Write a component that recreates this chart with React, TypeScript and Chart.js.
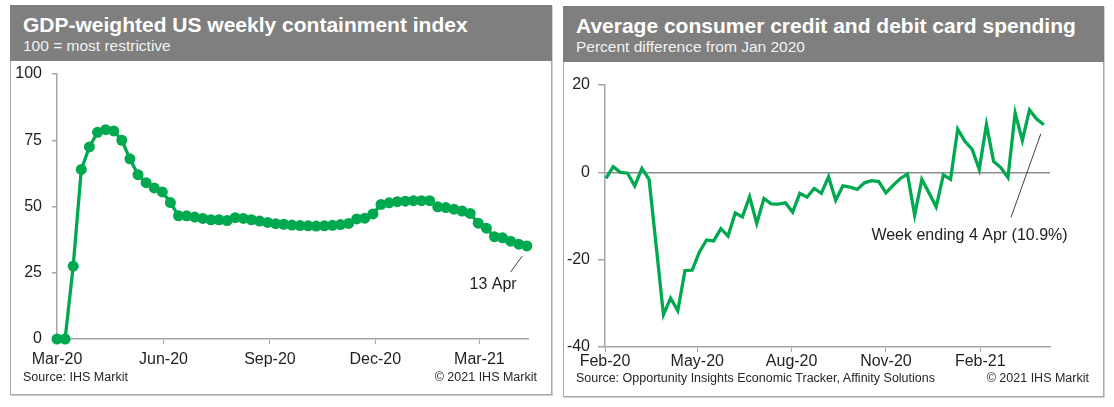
import React, { useEffect, useRef } from 'react';
import { Chart, registerables } from 'chart.js';

Chart.register(...registerables);

// ---------- data ----------
// Left chart: GDP-weighted US weekly containment index (weekly, days since 1 Mar 2020)
const containmentStartDay = 0;
const weekDays = 7;
const containmentValues = [
  0, 0, 27.5, 64, 72.5, 78, 79, 78.5, 75, 68,
  62, 59, 57, 55.5, 51.5, 46.5, 46.5, 46, 45.5, 45,
  45, 44.7, 45.8, 45.5, 45, 44.5, 44, 43.5, 43.3, 43,
  42.8, 42.7, 42.6, 42.7, 42.9, 43.2, 43.6, 45.3, 45.6, 47.2,
  50.8, 51.4, 51.8, 52, 52.2, 52.2, 52.2, 49.9, 49.6, 49,
  48.3, 47.4, 43.7, 41.8, 38.6, 38.2, 36.9, 35.8, 35.1,
];
const containmentTickDays = [0, 92, 184, 275, 365];
const containmentTickLabels = ['Mar-20', 'Jun-20', 'Sep-20', 'Dec-20', 'Mar-21'];
const containmentYTicks = [0, 25, 50, 75, 100];

// Right chart: card spending, % difference from Jan 2020 (weekly, days since 1 Feb 2020)
const spendingStartDay = 1;
const spendingValues = [
  -1.4, 1.3, 0, -0.2, -3.1, 0.9, -1.6, -17, -32.6, -28.8,
  -31.7, -22.5, -22.4, -18.3, -15.5, -15.7, -12.9, -14.6, -9.3, -10.2,
  -5.6, -11.7, -6, -7.2, -7.3, -7, -9.1, -4.8, -5.7, -3.7,
  -4.8, -1, -6.4, -3.1, -3.4, -3.9, -2.4, -1.9, -2.1, -4.7,
  -3, -1.4, -0.4, -9.8, -1.6, -4.7, -7.9, -0.6, -1.6, 9.9,
  7.1, 5.3, 0.7, 10.9, 2.5, 1.1, -1.2, 13.6, 7.3, 14.3,
  12.2, 10.9,
];
const spendingTickDays = [0, 90, 182, 274, 366];
const spendingTickLabels = ['Feb-20', 'May-20', 'Aug-20', 'Nov-20', 'Feb-21'];
const spendingYTicks = [-40, -20, 0, 20];

// ---------- styles ----------
const FONT = '"Liberation Sans", Arial, Helvetica, sans-serif';
const GREEN = '#00A94F';
const AXIS = '#A6A6A6';
const TEXT = '#1f1f1f';
const HEADER = '#7f7f7f';

const notePlugin = {
  id: 'note',
  afterDatasetsDraw(chart: any, _args: any, opts: any) {
    if (!opts || !opts.text) return;
    const xs = chart.scales.x;
    const ys = chart.scales.y;
    const ctx = chart.ctx;
    ctx.save();
    ctx.strokeStyle = '#404040';
    ctx.lineWidth = 1;
    ctx.beginPath();
    ctx.moveTo(xs.getPixelForValue(opts.from[0]), ys.getPixelForValue(opts.from[1]));
    ctx.lineTo(xs.getPixelForValue(opts.to[0]), ys.getPixelForValue(opts.to[1]));
    ctx.stroke();
    ctx.font = `16px ${FONT}`;
    ctx.fillStyle = TEXT;
    ctx.textAlign = 'center';
    ctx.textBaseline = 'middle';
    ctx.fillText(opts.text, xs.getPixelForValue(opts.at[0]), ys.getPixelForValue(opts.at[1]));
    ctx.restore();
  },
};

function toPoints(values: number[], start: number) {
  return values.map((v, i) => ({ x: start + i * weekDays, y: v }));
}

function makeConfig(p: any): any {
  return {
    type: 'line',
    data: {
      datasets: [
        {
          data: p.points,
          borderColor: GREEN,
          backgroundColor: GREEN,
          borderWidth: 3.3,
          pointRadius: p.pointRadius,
          pointBorderWidth: 0,
          pointBackgroundColor: GREEN,
          tension: 0,
          clip: false,
        },
      ],
    },
    plugins: [notePlugin],
    options: {
      animation: false,
      responsive: false,
      events: [],
      layout: { padding: p.padding, autoPadding: false },
      plugins: {
        legend: { display: false },
        tooltip: { enabled: false },
        note: p.note,
      },
      scales: {
        x: {
          type: 'linear',
          min: p.xMin,
          max: p.xMax,
          afterBuildTicks: (s: any) => {
            s.ticks = p.xTickDays.map((v: number) => ({ value: v }));
          },
          afterFit: (s: any) => {
            s.height = p.xHeight;
            s.paddingLeft = 0;
            s.paddingRight = 0;
          },
          ticks: {
            autoSkip: false,
            maxRotation: 0,
            padding: p.xPad,
            color: TEXT,
            font: { family: FONT, size: 16 },
            callback: (v: number) => {
              const i = p.xTickDays.indexOf(v);
              return i >= 0 ? p.xTickLabels[i] : '';
            },
          },
          grid: {
            display: true,
            drawOnChartArea: false,
            tickLength: p.xTickLen,
            color: AXIS,
            tickColor: AXIS,
          },
          border: { display: true, color: AXIS, width: 1.5 },
        },
        y: {
          type: 'linear',
          min: p.yMin,
          max: p.yMax,
          afterBuildTicks: (s: any) => {
            s.ticks = p.yTicks.map((v: number) => ({ value: v }));
          },
          afterFit: (s: any) => {
            s.width = p.yWidth;
            s.paddingTop = 0;
            s.paddingBottom = 0;
          },
          ticks: {
            padding: p.yPad,
            color: TEXT,
            font: { family: FONT, size: 16 },
          },
          grid: {
            display: true,
            drawOnChartArea: p.zeroLine,
            tickLength: p.yTickLen,
            color: (c: any) => (c.tick && c.tick.value === 0 ? '#8c8c8c' : 'rgba(0,0,0,0)'),
            lineWidth: 1.5,
            tickColor: AXIS,
          },
          border: { display: true, color: AXIS, width: 1.5 },
        },
      },
    },
  };
}

function ChartCanvas(props: { width: number; height: number; left: number; top: number; cfg: any }) {
  const ref = useRef<HTMLCanvasElement>(null);
  useEffect(() => {
    if (!ref.current) return;
    const chart = new Chart(ref.current, props.cfg);
    return () => chart.destroy();
  }, []);
  return (
    <canvas
      ref={ref}
      width={props.width}
      height={props.height}
      style={{ position: 'absolute', left: props.left, top: props.top, width: props.width, height: props.height }}
    />
  );
}

function Panel(props: {
  left: number; top: number; width: number; height: number;
  title: string; subtitle: string; source: string; children: any;
}) {
  return (
    <div
      style={{
        position: 'absolute',
        left: props.left,
        top: props.top,
        width: props.width,
        height: props.height,
        boxSizing: 'border-box',
        border: '1px solid #a8a8a8',
        boxShadow: '1px 1px 0 #d0d0d0',
        background: '#fff',
      }}
    >
      <div
        style={{
          position: 'absolute', left: -1, top: -1, right: -1, height: 56,
          background: HEADER, color: '#fff', fontFamily: FONT,
        }}
      >
        <div style={{ position: 'absolute', left: 13, top: 8, fontSize: 21, fontWeight: 'bold', whiteSpace: 'nowrap', lineHeight: '24px' }}>
          {props.title}
        </div>
        <div style={{ position: 'absolute', left: 13, top: 32, fontSize: 15.5, whiteSpace: 'nowrap', lineHeight: '18px', color: '#f2f2f2' }}>
          {props.subtitle}
        </div>
      </div>
      {props.children}
      <div style={{ position: 'absolute', left: 12, top: 364, fontFamily: FONT, fontSize: 12.5, color: '#262626', whiteSpace: 'nowrap', lineHeight: '14px' }}>
        {props.source}
      </div>
      <div style={{ position: 'absolute', right: 14, top: 364, fontFamily: FONT, fontSize: 12.5, color: '#262626', whiteSpace: 'nowrap', lineHeight: '14px' }}>
        © 2021 IHS Markit
      </div>
    </div>
  );
}

export default function App() {
  const leftCfg = makeConfig({
    points: toPoints(containmentValues, containmentStartDay),
    pointRadius: 5.5,
    xMin: 0,
    xMax: 407,
    xTickDays: containmentTickDays,
    xTickLabels: containmentTickLabels,
    yMin: 0,
    yMax: 100,
    yTicks: containmentYTicks,
    yWidth: 46,
    yPad: 10,
    yTickLen: 5,
    xHeight: 32,
    xPad: 6,
    xTickLen: 5,
    zeroLine: false,
    padding: { left: 0, right: 23, top: 13, bottom: 0 },
    note: { text: '13 Apr', at: [376.8, 20.7], from: [392, 25.3], to: [402, 31.3] },
  });
  const rightCfg = makeConfig({
    points: toPoints(spendingValues, spendingStartDay),
    pointRadius: 0,
    xMin: 0,
    xMax: 434,
    xTickDays: spendingTickDays,
    xTickLabels: spendingTickLabels,
    yMin: -40,
    yMax: 20,
    yTicks: spendingYTicks,
    yWidth: 41,
    yPad: 8,
    yTickLen: 7,
    xHeight: 25,
    xPad: 0,
    xTickLen: 5,
    zeroLine: true,
    padding: { left: 0, right: 53, top: 23, bottom: 0 },
    note: { text: 'Week ending 4 Apr (10.9%)', at: [355.5, -14.6], from: [396, -10.3], to: [425, 8.8] },
  });

  return (
    <div style={{ position: 'absolute', left: 0, top: 0, width: 1114, height: 407, background: '#fff', overflow: 'hidden' }}>
      <Panel
        left={10} top={5} width={542} height={390}
        title="GDP-weighted US weekly containment index"
        subtitle="100 = most restrictive"
        source="Source: IHS Markit"
      >
        <ChartCanvas left={0} top={55} width={540} height={310} cfg={leftCfg} />
      </Panel>
      <Panel
        left={563} top={6} width={541} height={391}
        title="Average consumer credit and debit card spending"
        subtitle="Percent difference from Jan 2020"
        source="Source: Opportunity Insights Economic Tracker, Affinity Solutions"
      >
        <ChartCanvas left={0} top={55} width={539} height={310} cfg={rightCfg} />
      </Panel>
    </div>
  );
}
